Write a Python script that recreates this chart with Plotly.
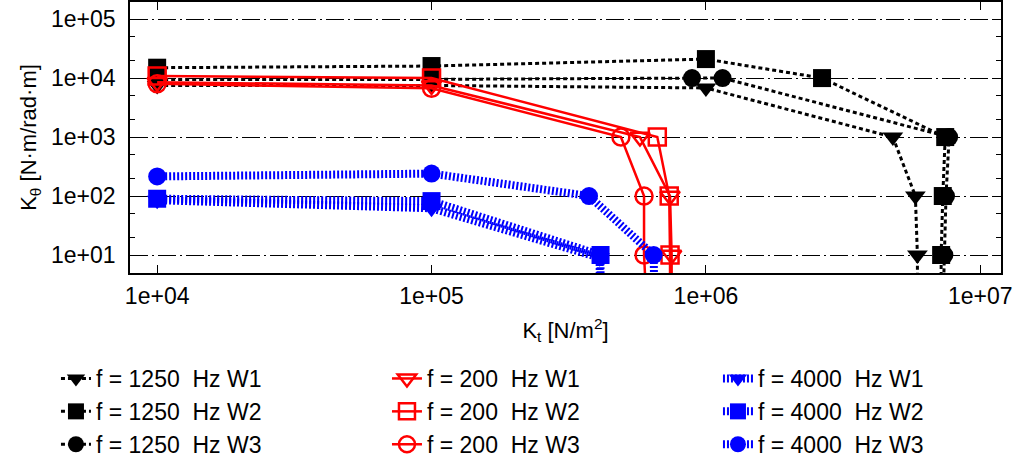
import plotly.graph_objects as go

# ---- data ----
x_1250_w1 = [1e4, 1e5, 1e6, 4.8e6, 5.8e6, 5.9e6, 5.9e6]
y_1250_w1 = [7.5e3, 7.5e3, 6.8e3, 1e3, 1e2, 1e1, 1]
x_1250_w2 = [1e4, 1e5, 1e6, 2.65e6, 7.45e6, 7.3e6, 7.2e6, 7.2e6]
y_1250_w2 = [1.5e4, 1.6e4, 2.1e4, 1e4, 1e3, 1e2, 1e1, 1]
x_1250_w3 = [1e4, 1e5, 8.9e5, 1.15e6, 7.7e6, 7.5e6, 7.4e6, 7.3e6]
y_1250_w3 = [9.5e3, 9.5e3, 1e4, 1e4, 1e3, 1e2, 1e1, 1]

x_200_w1 = [1e4, 1e5, 5.75e5, 7.4e5, 7.5e5, 7.5e5]
y_200_w1 = [8.5e3, 7.5e3, 1e3, 1e2, 1e1, 1]
x_200_w2 = [1e4, 1e5, 6.65e5, 7.35e5, 7.4e5, 7.4e5]
y_200_w2 = [1.08e4, 1e4, 1e3, 1e2, 1e1, 1]
x_200_w3 = [1e4, 1e5, 4.9e5, 5.95e5, 5.95e5, 6.1e5]
y_200_w3 = [8e3, 6.7e3, 1e3, 1e2, 1e1, 1]

x_4000_w1 = [1e4, 1e5, 4.1e5, 4.1e5]
y_4000_w1 = [85, 62, 9, 1]
x_4000_w2 = [1e4, 1e5, 4.13e5, 4.13e5]
y_4000_w2 = [90, 82, 10, 1]
x_4000_w3 = [1e4, 1e5, 3.75e5, 6.45e5, 6.5e5]
y_4000_w3 = [215, 240, 100, 10, 1]

x_tickvals = [1e4, 1e5, 1e6, 1e7]
x_ticktext = ["1e+04", "1e+05", "1e+06", "1e+07"]
y_tickvals = [1e1, 1e2, 1e3, 1e4, 1e5]
y_ticktext = ["1e+01", "1e+02", "1e+03", "1e+04", "1e+05"]

NB = "\u00a0"
FONT = "Liberation Sans, Arial, sans-serif"

fig = go.Figure()

black_line = dict(color="black", width=3, dash="4px,3px")
red_line = dict(color="#ff0000", width=2.5)
blue_line = dict(color="#0000ff", width=8, dash="2px,2px")

series = [
    # (name, x, y, line, symbol, color, legendrank)
    ("f = 1250" + NB * 2 + "Hz W1", x_1250_w1, y_1250_w1, black_line, "triangle-down", "black", 1),
    ("f = 1250" + NB * 2 + "Hz W2", x_1250_w2, y_1250_w2, black_line, "square", "black", 4),
    ("f = 1250" + NB * 2 + "Hz W3", x_1250_w3, y_1250_w3, black_line, "circle", "black", 7),
    ("f = 200" + NB * 2 + "Hz W1", x_200_w1, y_200_w1, red_line, "triangle-down-open", "#ff0000", 2),
    ("f = 200" + NB * 2 + "Hz W2", x_200_w2, y_200_w2, red_line, "square-open", "#ff0000", 5),
    ("f = 200" + NB * 2 + "Hz W3", x_200_w3, y_200_w3, red_line, "circle-open", "#ff0000", 8),
    ("f = 4000" + NB * 2 + "Hz W1", x_4000_w1, y_4000_w1, blue_line, "triangle-down", "#0000ff", 3),
    ("f = 4000" + NB * 2 + "Hz W2", x_4000_w2, y_4000_w2, blue_line, "square", "#0000ff", 6),
    ("f = 4000" + NB * 2 + "Hz W3", x_4000_w3, y_4000_w3, blue_line, "circle", "#0000ff", 9),
]

for name, xs, ys, line, sym, col, rank in series:
    open_sym = sym.endswith("-open")
    fig.add_trace(go.Scatter(
        x=xs, y=ys, mode="lines+markers", name=name, line=line,
        marker=dict(symbol=sym, size=18 if not open_sym else 17, color=col,
                    line=dict(color=col, width=2.5 if open_sym else 0)),
        legendrank=rank,
    ))

fig.update_xaxes(
    type="log", range=[3.901, 7.0755],
    tickvals=x_tickvals, ticktext=x_ticktext,
    ticks="inside", ticklen=8, tickwidth=1.2, tickcolor="black",
    showline=True, linecolor="black", linewidth=1.5, mirror="ticks",
    showgrid=False, zeroline=False, ticklabeloverflow="allow",
    ticklabelstandoff=2,
    tickfont=dict(family=FONT, size=23, color="black"),
    title=dict(text="K<sub>t</sub> [N/m<sup>2</sup>]", font=dict(family=FONT, size=22, color="black"), standoff=14),
)
fig.update_yaxes(
    type="log", range=[0.695, 5.29],
    tickvals=y_tickvals, ticktext=y_ticktext,
    ticks="inside", ticklen=8, tickwidth=1.2, tickcolor="black",
    minor=dict(ticks="inside", ticklen=5, dtick="D2", tickcolor="black", showgrid=False),
    showline=True, linecolor="black", linewidth=1.5, mirror="ticks",
    showgrid=True, gridcolor="black", gridwidth=1, griddash="18px,4px,2px,4px",
    zeroline=False, ticklabelstandoff=8,
    tickfont=dict(family=FONT, size=23, color="black"),
    title=dict(text="K<sub>θ</sub> [N·m/rad·m]", font=dict(family=FONT, size=22, color="black"), standoff=8),
)

fig.update_layout(
    width=1016, height=461,
    margin=dict(l=130, r=15, t=2, b=188, autoexpand=False),
    paper_bgcolor="white", plot_bgcolor="white",
    font=dict(family=FONT, color="black"),
    legend=dict(
        orientation="h", x=-0.085, xanchor="left", y=-0.31, yanchor="top",
        entrywidth=286, entrywidthmode="pixels",
        font=dict(family=FONT, size=23, color="black"),
        bgcolor="rgba(0,0,0,0)", tracegroupgap=0,
    ),
    showlegend=True,
)

fig.write_html("out.html", config={"displayModeBar": False},
               post_script="document.body.style.margin='0';")
